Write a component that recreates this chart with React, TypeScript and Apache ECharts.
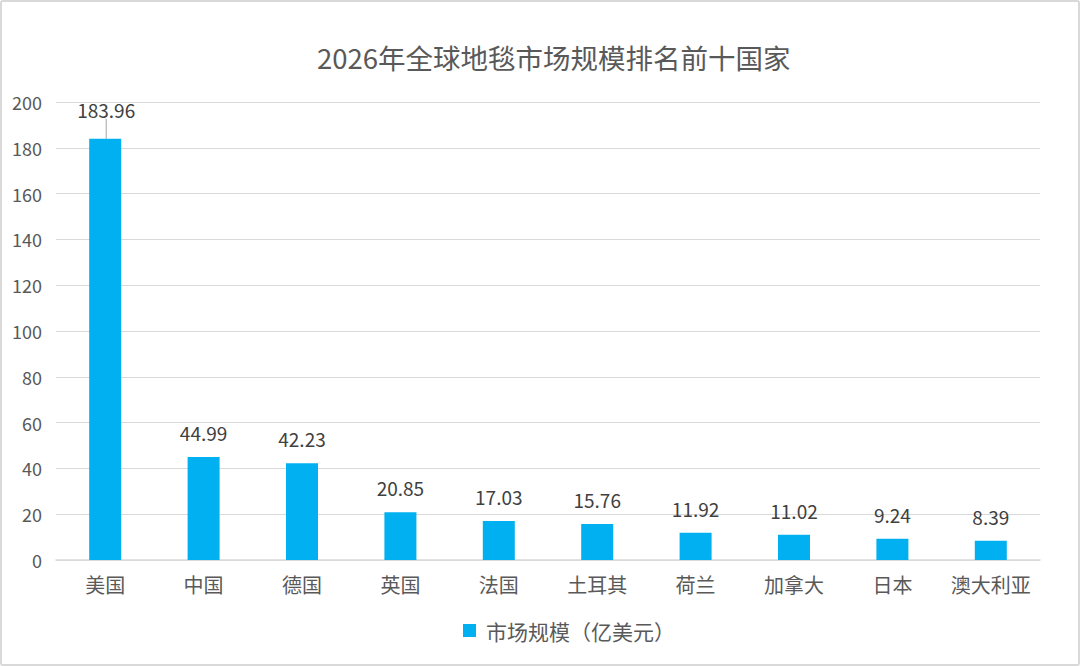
import React, { useEffect, useRef } from "react";
import * as echarts from "echarts";

const categories = ["美国", "中国", "德国", "英国", "法国", "土耳其", "荷兰", "加拿大", "日本", "澳大利亚"];
const values = [183.96, 44.99, 42.23, 20.85, 17.03, 15.76, 11.92, 11.02, 9.24, 8.39];
const seriesName = "市场规模（亿美元）";
const titleText = "2026年全球地毯市场规模排名前十国家";

const FONT = "'Noto Sans CJK SC', 'Noto Sans', sans-serif";

export default function App() {
  const ref = useRef<HTMLDivElement>(null);
  useEffect(() => {
    document.body.style.margin = "0";
    const chart = echarts.init(ref.current!, undefined, { renderer: "svg" });
    chart.setOption({
      animation: false,
      backgroundColor: "#ffffff",
      title: {
        text: titleText,
        left: 312,
        top: 38,
        textStyle: { fontFamily: FONT, fontSize: 27.5, fontWeight: "normal", color: "#595959" },
      },
      legend: {
        bottom: 20,
        left: 458,
        itemWidth: 13,
        itemHeight: 13,
        icon: "rect",
        textStyle: { fontFamily: FONT, fontSize: 21, color: "#595959", padding: [0, 0, 0, 5] },
        data: [seriesName],
      },
      grid: { left: 56, right: 40, top: 102, bottom: 106, containLabel: false },
      xAxis: {
        type: "category",
        data: categories,
        axisLine: { show: true, lineStyle: { color: "#d9d9d9", width: 1.5 } },
        axisTick: { show: false },
        axisLabel: { fontFamily: FONT, fontSize: 20, color: "#595959", margin: 14, interval: 0 },
      },
      yAxis: {
        type: "value",
        min: 0,
        max: 200,
        interval: 20,
        axisLine: { show: false },
        axisTick: { show: false },
        splitLine: { lineStyle: { color: "#d9d9d9", width: 1.2 } },
        axisLabel: { fontFamily: FONT, fontSize: 18, color: "#595959", margin: 14 },
      },
      series: [
        {
          name: seriesName,
          type: "bar",
          data: values.map((v, i) =>
            i === 0
              ? { value: v, labelLine: { show: true, lineStyle: { color: "#a6a6a6", width: 1 } } }
              : { value: v }
          ),
          barWidth: 32,
          itemStyle: { color: "#00B0F0" },
          label: {
            show: true,
            position: "top",
            distance: 15,
            fontFamily: FONT,
            fontSize: 19,
            color: "#404040",
            formatter: (p: any) => Number(p.value).toFixed(2),
          },
          labelLine: { show: false },
          labelLayout: (p: any) => (p.dataIndex === 0 ? { dx: 1, dy: -5 } : {}),
        },
      ],
    });
    return () => chart.dispose();
  }, []);
  return (
    <div
      style={{
        position: "absolute",
        left: 0,
        top: 0,
        width: 1080,
        height: 666,
        boxSizing: "border-box",
        border: "2px solid #d9d9d9",
        borderRadius: 3,
        overflow: "hidden",
      }}
    >
      <div ref={ref} style={{ position: "absolute", left: -2, top: -2, width: 1080, height: 666 }} />
    </div>
  );
}
